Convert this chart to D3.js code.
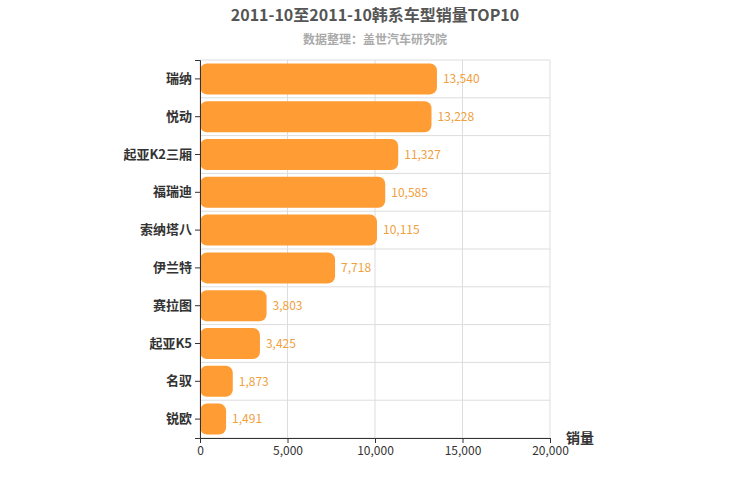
<!DOCTYPE html><html><head><meta charset="utf-8"><script src="https://cdn.jsdelivr.net/npm/d3@7"></script>
<style>body{margin:0;background:#fff}text{font-family:"Noto Sans CJK SC",sans-serif}</style></head><body>
<svg id="c" width="750" height="500"></svg>
<script>
const categories=["瑞纳","悦动","起亚K2三厢","福瑞迪","索纳塔八","伊兰特","赛拉图","起亚K5","名驭","锐欧"];
const values=[13540,13228,11327,10585,10115,7718,3803,3425,1873,1491];
const xTicks=[0,5000,10000,15000,20000];
const svg=d3.select("#c");
const x=d3.scaleLinear().domain([0,20000]).range([200,550]);
const y=d3.scaleBand().domain(categories).range([60,438]).paddingInner(0.18).paddingOuter(0.09);
const step=y.step();
const g=svg.append("g");
// grid
xTicks.forEach(t=>g.append("line").attr("x1",x(t)).attr("x2",x(t)).attr("y1",60).attr("y2",438).attr("stroke","#ddd"));
categories.forEach((c,i)=>{const yy=60+step*i;g.append("line").attr("x1",200).attr("x2",550).attr("y1",yy).attr("y2",yy).attr("stroke","#ddd");});
g.append("line").attr("x1",200).attr("x2",550).attr("y1",438).attr("y2",438).attr("stroke","#ddd");
// bars
categories.forEach((c,i)=>{
 g.append("rect").attr("x",x(0)).attr("y",y(c)).attr("width",x(values[i])-x(0)).attr("height",y.bandwidth()).attr("rx",7).attr("fill","#ff9c33");
 g.append("text").attr("x",x(values[i])+6).attr("y",y(c)+y.bandwidth()/2).attr("dy","0.35em").attr("font-size",12).attr("fill","#f0a040").text(d3.format(",")(values[i]));
});
const yA=svg.append("g").attr("transform","translate(200,0)").call(d3.axisLeft(y).tickSize(5));
yA.selectAll("text").attr("font-size",13).attr("font-weight","bold").attr("fill","#333");
yA.select(".domain").attr("stroke","#333");yA.selectAll("line").attr("stroke","#333");
const xA=svg.append("g").attr("transform","translate(0,438)").call(d3.axisBottom(x).tickValues(xTicks).tickFormat(d3.format(",")).tickSize(5));
xA.selectAll("text").attr("font-size",12).attr("fill","#333");
xA.select(".domain").attr("stroke","#333");xA.selectAll("line").attr("stroke","#333");
svg.append("text").attr("x",375).attr("y",21).attr("text-anchor","middle").attr("font-size",16).attr("font-weight","bold").attr("fill","#555").text("2011-10至2011-10韩系车型销量TOP10");
svg.append("text").attr("x",375).attr("y",44).attr("text-anchor","middle").attr("font-size",12).attr("font-weight","bold").attr("fill","#aaa").text("数据整理：盖世汽车研究院");
svg.append("text").attr("x",580).attr("y",443).attr("text-anchor","middle").attr("font-size",14).attr("font-weight","bold").attr("fill","#333").text("销量");
</script></body></html>
